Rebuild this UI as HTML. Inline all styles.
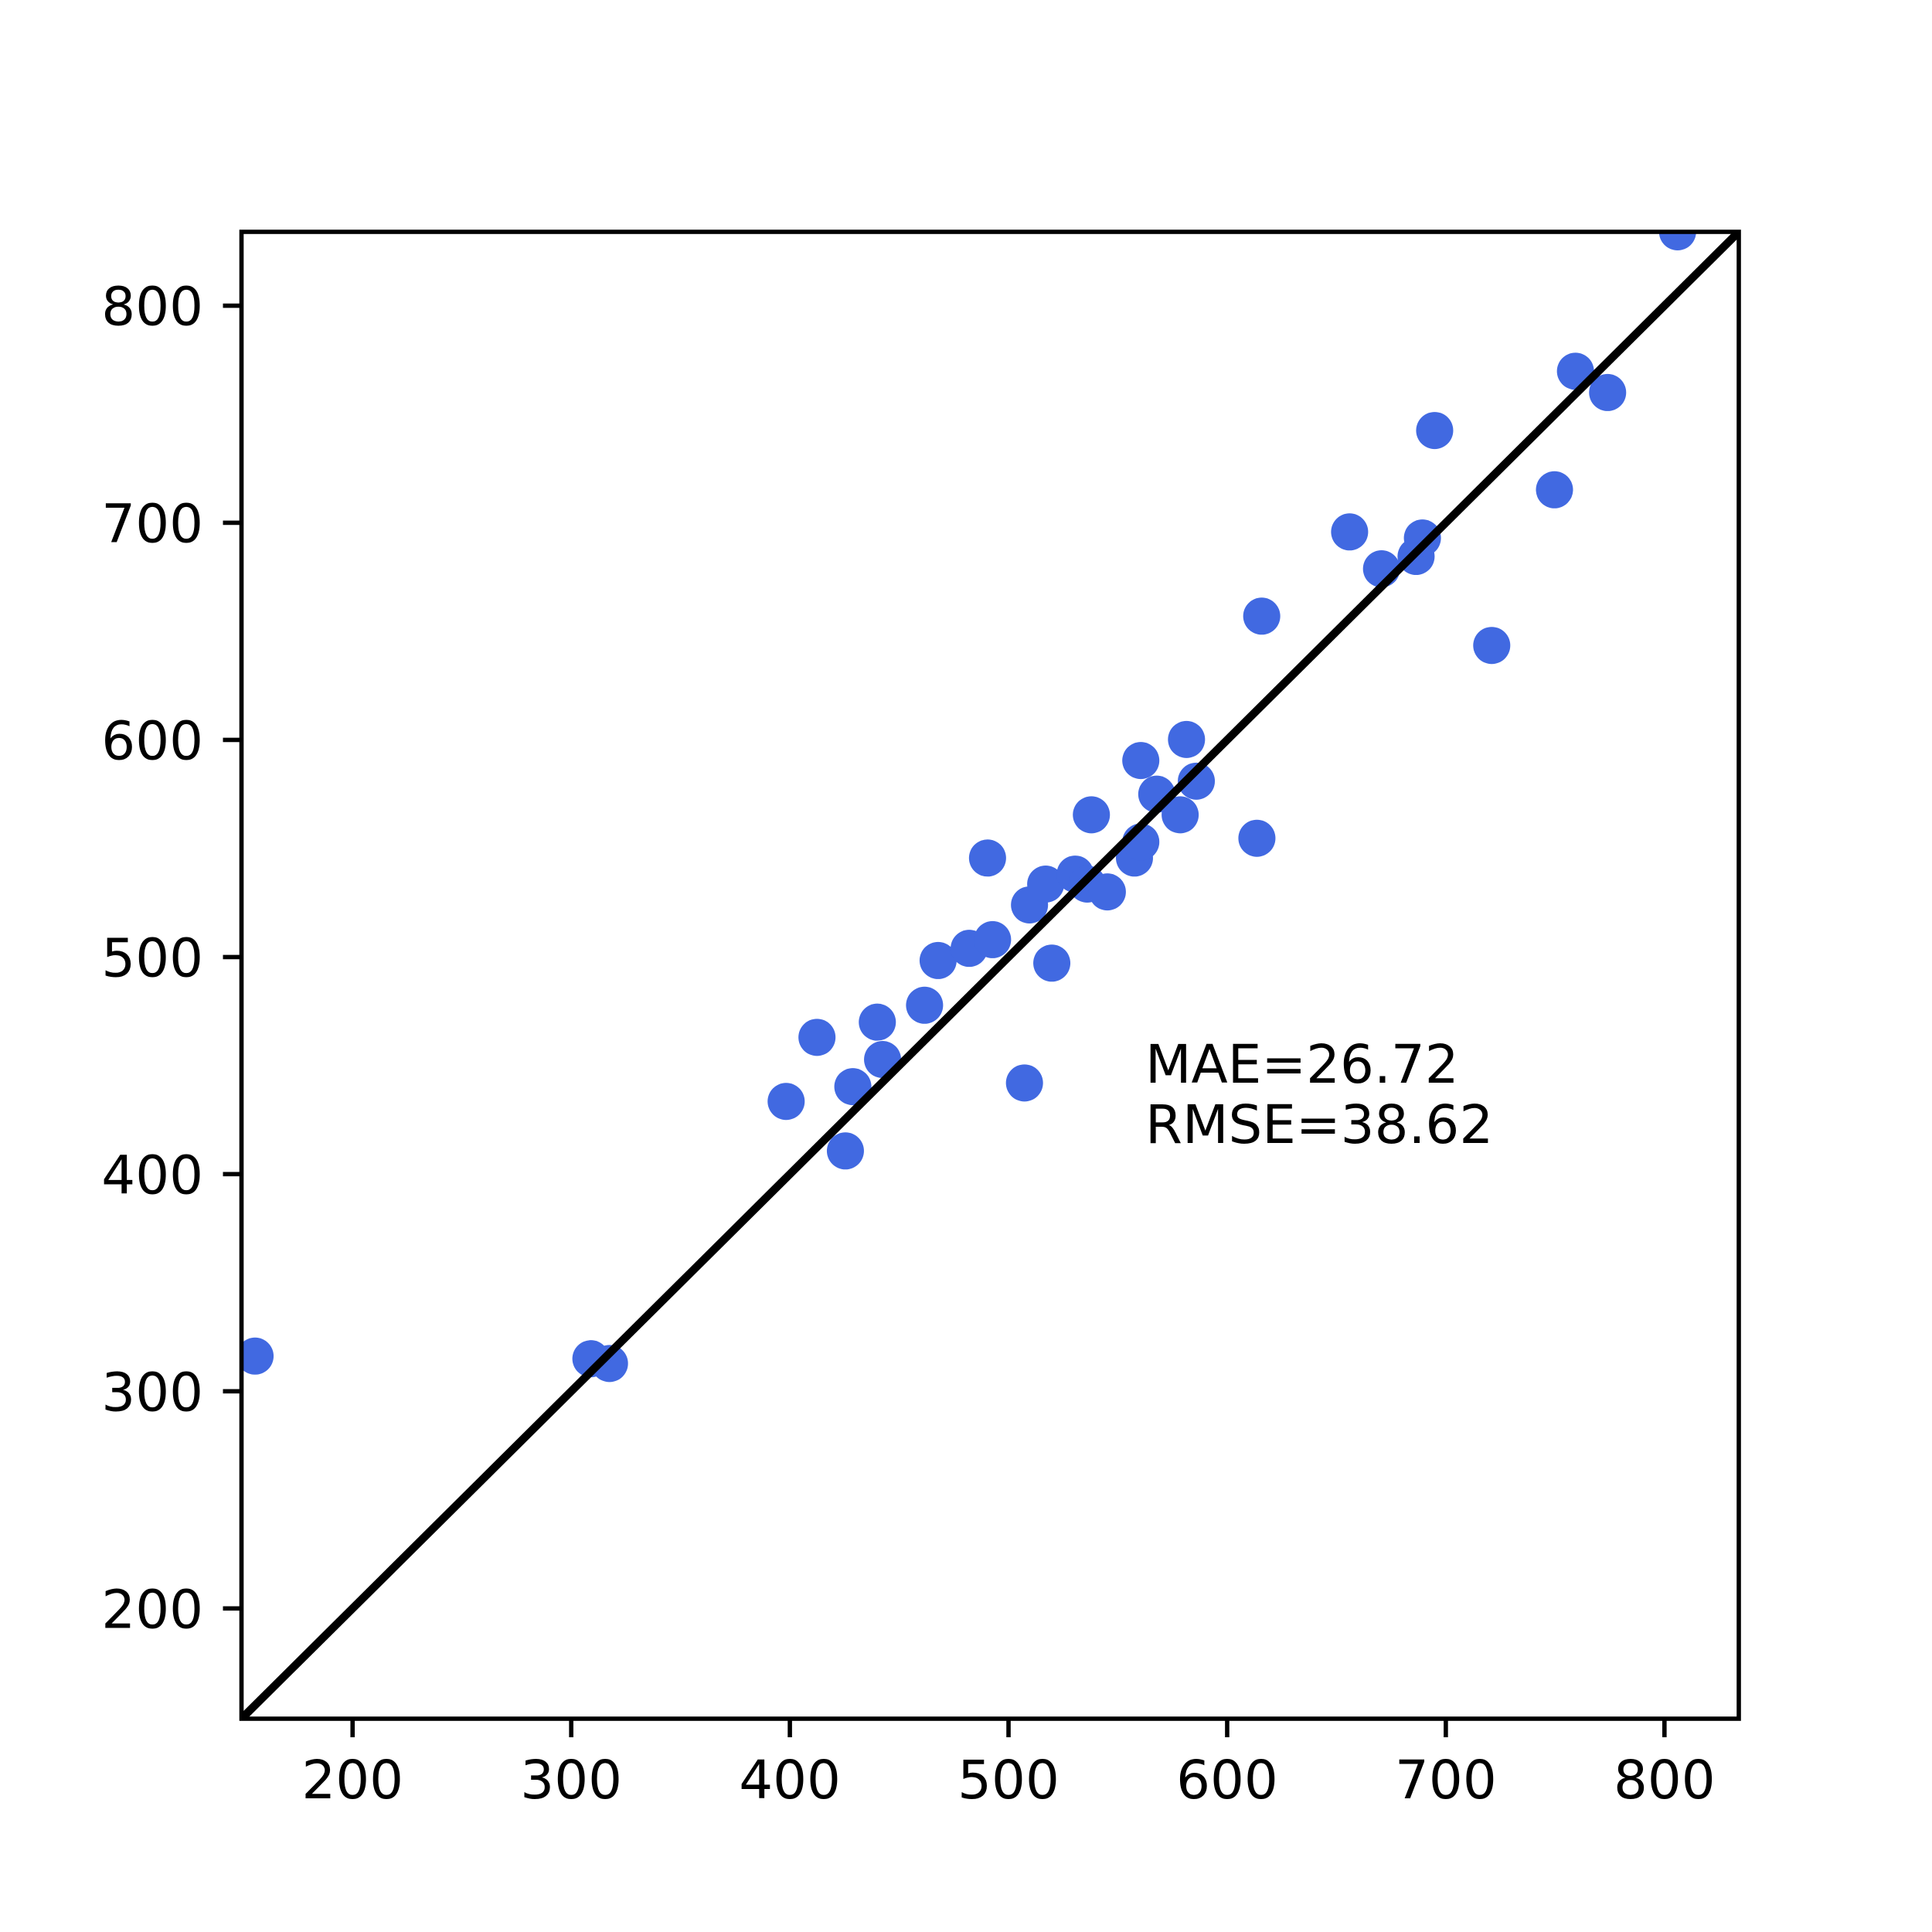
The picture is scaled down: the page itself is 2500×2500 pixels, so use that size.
<!DOCTYPE html>
<html><head><meta charset="utf-8"><style>
html,body{margin:0;padding:0;background:#fff}
svg{display:block}
text{font-family:"DejaVu Sans","Liberation Sans",sans-serif;font-size:69px;fill:#000}
</style></head><body>
<svg id="chart" width="2500" height="2500" viewBox="0 0 2500 2500" xmlns="http://www.w3.org/2000/svg"></svg>
<script>
const xVals=[155.4,309,317.5,398.3,412.4,425.4,428.8,440,442.4,461.6,467.8,482,492.7,490.4,507.3,509.6,517,519.8,530.5,536,537.9,545.2,557.6,560.5,560.5,567.8,578.5,581.4,585.9,613.6,615.8,656,670.6,686.4,689.3,694.9,721,749.7,759.3,774,806];
const yVals=[316.2,315,312.8,433.5,463,410.7,440.3,470,452.8,477.8,498.4,504,508,545.6,442,524,533.6,497.2,538.2,533.6,565.5,530,545.6,553,590.5,575,565.5,600.2,581,554.7,657,695.8,678.8,684.5,693,742.5,643.5,715.2,769.8,760,834];
const xTicks=[200,300,400,500,600,700,800];
const yTicks=[200,300,400,500,600,700,800];
const statLines=["MAE=26.72","RMSE=38.62"];

const L=312.5,R=2250,T=300,B=2224,MIN=149.2,MAX=834;
const sx=v=>L+(v-MIN)/(MAX-MIN)*(R-L);
const sy=v=>B-(v-MIN)/(MAX-MIN)*(B-T);
const NS="http://www.w3.org/2000/svg";
const svg=document.getElementById('chart');
function mk(tag,attrs,parent){const e=document.createElementNS(NS,tag);for(const k in attrs)e.setAttribute(k,attrs[k]);(parent||svg).appendChild(e);return e;}

const defs=mk('defs',{});
const cp=mk('clipPath',{id:'clip'},defs);
mk('rect',{x:L,y:T,width:R-L,height:B-T},cp);

const pts=mk('g',{'clip-path':'url(#clip)'});


xVals.forEach((x,i)=>{
  const c=mk('circle',{cx:sx(x),cy:sy(yVals[i]),r:24,fill:'#4169e1'},pts);
  
  
});

const line=mk('line',{x1:sx(MIN),y1:sy(MIN),x2:sx(MAX),y2:sy(MAX),stroke:'#000','stroke-width':10.4,'clip-path':'url(#clip)'});



const frame=mk('rect',{x:L,y:T,width:R-L,height:B-T,fill:'none',stroke:'#000','stroke-width':5.6});



xTicks.forEach(v=>{
  const t=mk('line',{x1:sx(v),x2:sx(v),y1:B,y2:B+24,stroke:'#000','stroke-width':5.6});
  
  
  const lb=mk('text',{x:sx(v),y:2327,'text-anchor':'middle'});
  lb.textContent=v;
  
  
});
yTicks.forEach(v=>{
  const t=mk('line',{x1:L-24,x2:L,y1:sy(v),y2:sy(v),stroke:'#000','stroke-width':5.6});
  
  
  const lb=mk('text',{x:263,y:sy(v)+25,'text-anchor':'end'});
  lb.textContent=v;
  
  
});
statLines.forEach((s,i)=>{
  const tx=mk('text',{x:1482,y:1401+i*78});
  tx.textContent=s;
  
  
});
</script>
</body></html>
